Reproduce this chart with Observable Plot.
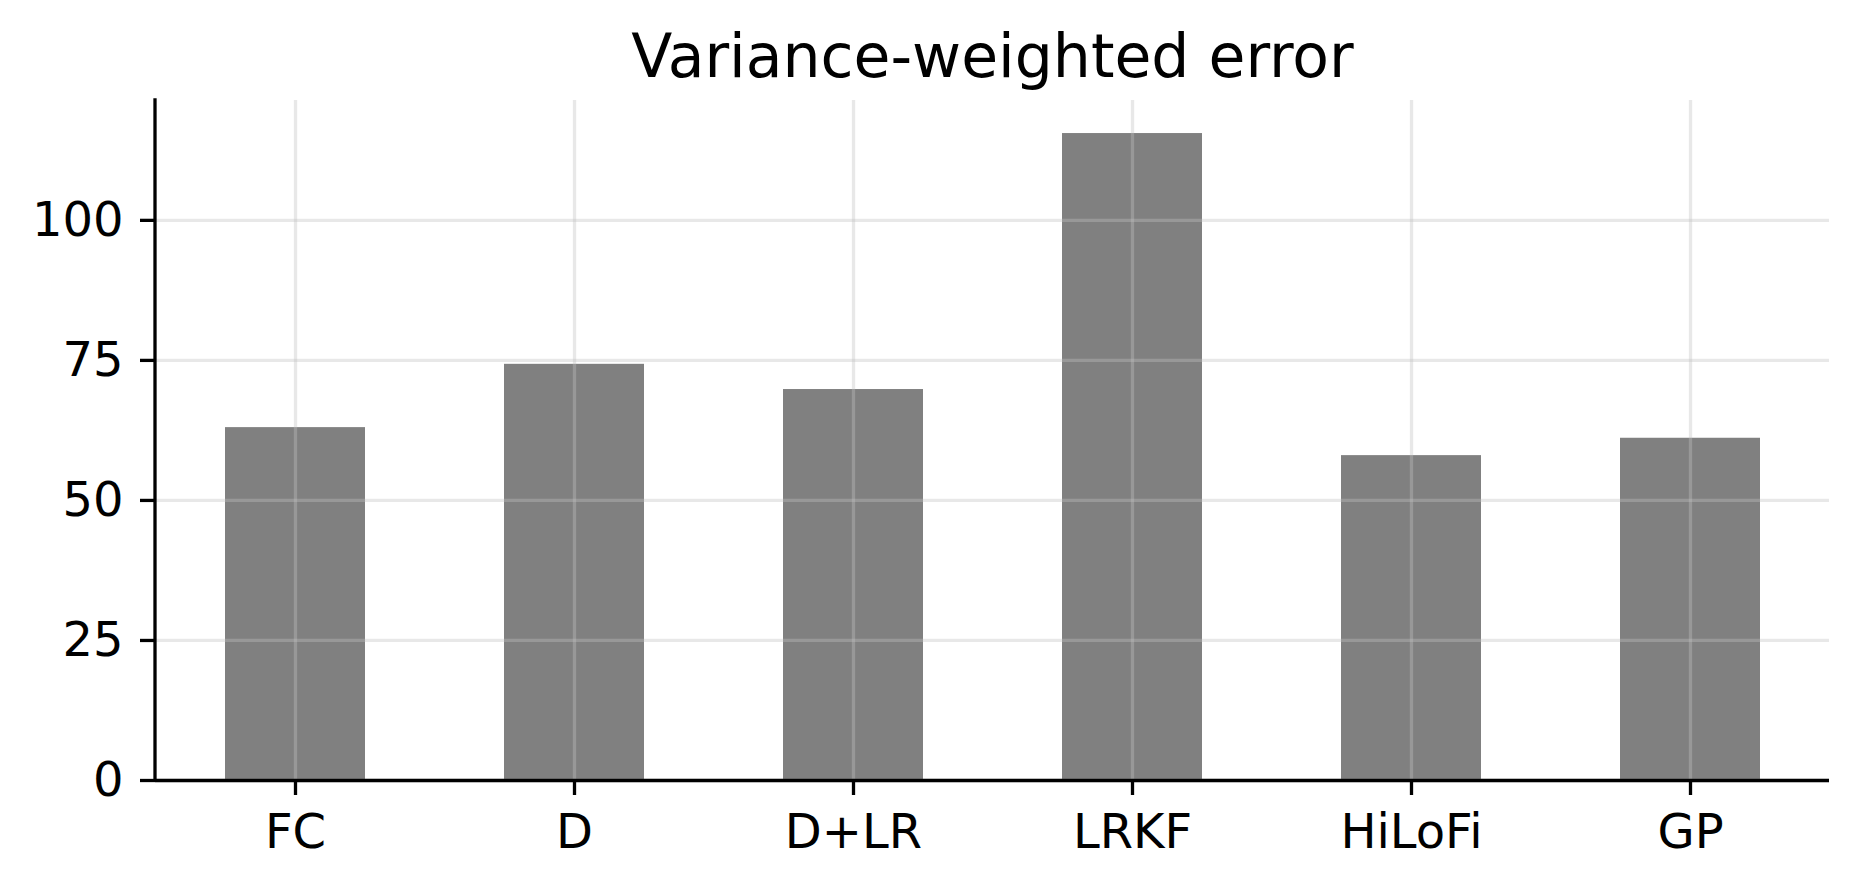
<!DOCTYPE html>
<html>
<head>
<meta charset="utf-8">
<script src="https://cdn.jsdelivr.net/npm/d3@7"></script>
<script src="https://cdn.jsdelivr.net/npm/@observablehq/plot@0.6"></script>
<style>
  html, body { margin: 0; padding: 0; background: #fff; }
  #chart svg { display: block; }
</style>
</head>
<body>
<div id="chart"></div>
<script>
const title = "Variance-weighted error";
const categories = ["FC", "D", "D+LR", "LRKF", "HiLoFi", "GP"];
const values = [63.0, 74.3, 69.8, 115.5, 58.0, 61.1];
const yTicks = [0, 25, 50, 75, 100];

const data = categories.map((c, i) => ({method: c, value: values[i]}));

function leftSpine(...args) {
  const dims = args.find(a => a && typeof a === "object" && "marginLeft" in a && "height" in a);
  const line = document.createElementNS("http://www.w3.org/2000/svg", "line");
  line.setAttribute("x1", dims.marginLeft);
  line.setAttribute("x2", dims.marginLeft);
  line.setAttribute("y1", dims.marginTop);
  line.setAttribute("y2", dims.height - dims.marginBottom);
  line.setAttribute("stroke", "#000");
  line.setAttribute("stroke-width", 3.3);
  line.setAttribute("stroke-linecap", "square");
  return line;
}

const chart = Plot.plot({
  width: 1858,
  height: 887,
  marginLeft: 155,
  marginRight: 29,
  marginTop: 100,
  marginBottom: 107,
  style: {fontFamily: "DejaVu Sans", background: "#fff", color: "#000"},
  x: {type: "band", domain: categories, paddingInner: 0.5, paddingOuter: 0.25, label: null},
  y: {domain: [0, 121.4], label: null},
  marks: [
    Plot.barY(data, {x: "method", y: "value", fill: "#808080"}),
    Plot.gridX({stroke: "#c0c0c0", strokeOpacity: 0.37, strokeWidth: 3.3}),
    Plot.gridY(yTicks, {stroke: "#c0c0c0", strokeOpacity: 0.37, strokeWidth: 3.3}),
    Plot.axisX({tickSize: 15, tickPadding: 18, fontSize: 48, strokeWidth: 3.3, label: null}),
    Plot.axisY(yTicks, {tickSize: 15, tickPadding: 17, fontSize: 48, strokeWidth: 3.3, label: null}),
    Plot.ruleY([0], {stroke: "#000", strokeWidth: 3.3}),
    leftSpine,
    Plot.text([title], {text: d => d, frameAnchor: "top", lineAnchor: "middle", dy: -43, fontSize: 60, fill: "#000"})
  ]
});
document.getElementById("chart").appendChild(chart);
</script>
</body>
</html>
